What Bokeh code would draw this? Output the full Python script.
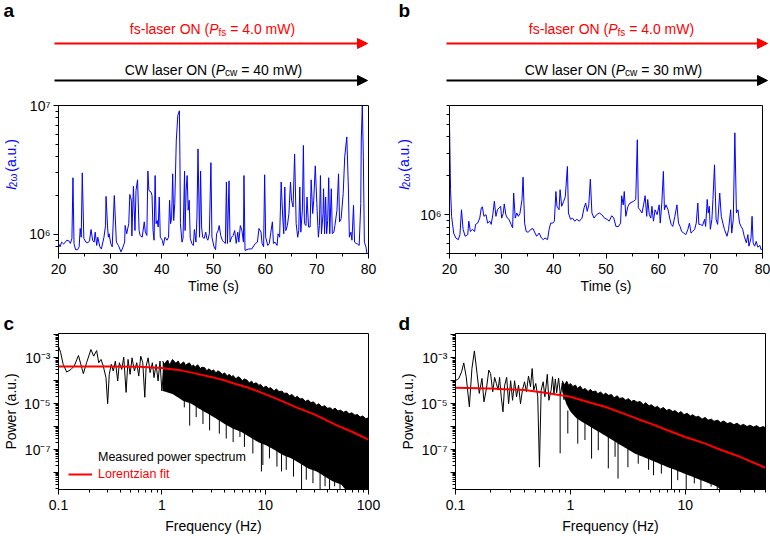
import numpy as np
from bokeh.plotting import figure
from bokeh.layouts import row, column
from bokeh.models import (Range1d, FixedTicker, CustomJSTickFormatter, Label,
                          Arrow, NormalHead, Legend, LegendItem)
from bokeh.embed import file_html
from bokeh.resources import INLINE

FONT = "Liberation Sans"
BLUE = "#0000ff"
RED = "#ff0000"

# ---------------- data ----------------
P_fs = "4.0"
P_cw_a = "40"
P_cw_b = "30"

time_major = [20, 30, 40, 50, 60, 70, 80]
time_minor = [25, 35, 45, 55, 65, 75]

# panel a: SHG intensity vs time
a_t = [20.0, 20.3, 20.6, 21.0, 21.3, 21.6, 22.0, 22.3, 22.6, 22.8, 23.0, 23.3, 23.7, 24.0, 24.2,
       24.4, 24.6, 24.9, 25.3, 25.7, 26.0, 26.3, 26.6, 26.9, 27.1, 27.4, 27.6, 28.0, 28.3, 28.8,
       29.1, 29.2, 29.5, 29.65, 29.8, 30.1, 30.4, 30.8, 31.2, 31.6, 32.1, 32.5, 32.8, 32.9, 33.2,
       33.6, 33.8, 34.1, 34.2, 34.5, 34.8, 35.0, 35.3, 35.6, 35.8, 36.2, 36.6, 36.8, 37.1, 37.3,
       37.5, 37.9, 38.1, 38.3, 38.5, 38.7, 38.9, 39.1, 39.3, 39.5, 39.7, 40.1, 40.3, 40.6, 41.0,
       41.3, 41.5, 41.7, 41.9, 42.1, 42.3, 42.5, 42.8, 43.1, 43.4, 43.5, 43.6, 43.9, 44.1, 44.4,
       44.5, 44.7, 44.9, 45.1, 45.3, 45.5, 45.8, 46.1, 46.3, 46.6, 46.8, 47.0, 47.3, 47.5, 47.7,
       47.9, 48.2, 48.5, 48.7, 48.9, 49.2, 49.5, 49.7, 50.1, 50.4, 50.6, 50.9, 51.1, 51.4, 51.7,
       52.0, 52.3, 52.5, 52.7, 53.0, 53.2, 53.5, 53.8, 54.1, 54.4, 54.7, 54.9, 55.2, 55.5, 55.8,
       55.9, 56.1, 56.8, 57.4, 58.1, 58.5, 58.8, 59.2, 59.4, 59.7, 59.9, 60.1, 60.5, 60.8, 61.1,
       61.4, 61.6, 61.9, 62.3, 62.5, 62.8, 63.1, 63.4, 63.6, 63.8, 64.0, 64.3, 64.6, 64.9, 65.1,
       65.4, 65.7, 66.0, 66.3, 66.5, 66.7, 66.9, 67.2, 67.4, 67.6, 67.9, 68.1, 68.4, 68.7, 68.9,
       69.2, 69.4, 69.7, 70.0, 70.3, 70.5, 70.7, 70.9, 71.2, 71.3, 71.5, 71.7, 71.9, 72.1, 72.3,
       72.5, 72.8, 73.0, 73.3, 73.5, 73.9, 74.2, 74.4, 74.7, 75.1, 75.4, 75.8, 76.1, 76.3, 76.6,
       76.8, 77.1, 77.3, 77.6, 77.9, 78.2, 78.5, 78.6, 78.8, 79.0, 79.2, 79.5, 79.7, 80.0]
a_v = [8.5e5, 8.0e5, 8.7e5, 8.4e5, 8.7e5, 9.0e5, 8.9e5, 8.5e5, 9.3e5, 2.75e6, 8.5e5, 7.6e5, 7.6e5, 8.0e5, 1.11e6,
       9.5e5, 3.0e6, 9.3e5, 8.7e5, 8.6e5, 8.9e5, 1.09e6, 9.0e5, 8.7e5, 1.04e6, 8.2e5, 9.5e5, 8.0e5, 7.7e5, 9.5e5,
       1.17e6, 1.97e6, 1.14e6, 9.5e5, 1.01e6, 8.5e5, 8.0e5, 2.0e6, 8.7e5, 8.2e5, 7.3e5, 8.0e5, 8.7e5, 1.17e6, 1.01e6,
       1.21e6, 2.04e6, 1.84e6, 9.7e5, 2.36e6, 1.07e6, 2.19e6, 2.65e6, 1.07e6, 9.8e5, 9.5e5, 1.25e6, 1.04e6, 9.8e5, 3.1e6,
       2.19e6, 2.13e6, 2.0e6, 1.07e6, 9.0e5, 2.86e6, 1.21e6, 1.28e6, 1.14e6, 1.95e6, 9.5e5, 9.0e5, 8.2e5, 9.5e5, 9.0e5,
       9.5e5, 1.84e6, 1.21e6, 1.36e6, 2.95e6, 1.28e6, 1.73e6, 5.4e6, 8.4e6, 9.1e6, 4.0e6, 1.21e6, 8.7e5, 9.3e5, 3.1e6,
       1.07e6, 2.19e6, 2.86e6, 1.54e6, 1.84e6, 9.3e5, 8.5e5, 8.2e5, 1.09e6, 8.7e5, 1.36e6, 4.6e6, 9.5e5, 3.1e6, 1.14e6,
       9.5e5, 9.3e5, 1.04e6, 9.3e5, 9.0e5, 1.01e6, 3.6e6, 9.5e5, 8.0e5, 7.6e5, 1.01e6, 1.07e6, 1.17e6, 9.8e5, 9.0e5,
       8.7e5, 8.5e5, 2.55e6, 8.5e5, 2.6e6, 8.7e5, 9.5e5, 9.8e5, 1.07e6, 8.5e5, 1.04e6, 8.7e5, 1.17e6, 1.07e6, 8.7e5,
       2.86e6, 7.5e5, 7.7e5, 7.7e5, 8.5e5, 8.7e5, 1.11e6, 1.04e6, 8.5e5, 8.0e5, 2.9e6, 9.5e5, 8.2e5, 8.5e5, 1.04e6,
       1.25e6, 8.5e5, 8.7e5, 8.2e5, 1.01e6, 9.5e5, 2.55e6, 1.36e6, 1.01e6, 2.33e6, 1.07e6, 1.17e6, 1.45e6, 2.55e6, 1.84e6,
       1.63e6, 4.2e6, 1.21e6, 9.5e5, 1.07e6, 2.33e6, 1.04e6, 1.54e6, 4.9e6, 1.21e6, 1.17e6, 1.95e6, 1.14e6, 1.14e6, 2.65e6,
       1.45e6, 1.84e6, 3.4e6, 1.73e6, 9.5e5, 1.17e6, 2.86e6, 1.01e6, 1.45e6, 2.26e6, 1.01e6, 1.95e6, 1.01e6, 1.28e6, 2.75e6,
       1.01e6, 2.26e6, 1.01e6, 1.04e6, 1.17e6, 1.54e6, 2.95e6, 1.25e6, 1.32e6, 2.07e6, 4.0e6, 5.7e6, 2.33e6, 9.5e5, 1.04e6,
       9.0e5, 1.68e6, 8.7e5, 8.5e5, 8.4e5, 8.2e5, 1.73e6, 5.4e6, 1.0e7, 4.0e6, 8.7e5, 8.0e5, 7.1e5, 6.5e5]

# panel b: SHG intensity vs time
b_t = [20.0, 20.2, 20.4, 20.8, 21.2, 21.7, 22.0, 22.3, 22.6, 23.0, 23.5, 23.7, 24.0, 24.4, 24.8,
       25.0, 25.4, 25.8, 26.1, 26.3, 26.6, 27.0, 27.3, 27.7, 28.0, 28.3, 28.6, 28.9, 29.2, 29.5,
       29.8, 30.0, 30.3, 30.5, 30.8, 31.1, 31.4, 31.8, 32.1, 32.3, 32.6, 32.9, 33.2, 33.5, 33.9,
       34.1, 34.4, 34.7, 35.1, 35.6, 36.0, 36.4, 36.7, 37.2, 37.6, 38.0, 38.3, 38.8, 39.1, 39.4,
       39.8, 40.1, 40.4, 40.6, 41.0, 41.2, 41.5, 41.9, 42.2, 42.6, 42.8, 43.2, 43.6, 44.0, 44.4,
       44.9, 45.4, 45.8, 46.1, 46.4, 46.7, 47.0, 47.3, 47.7, 48.2, 48.7, 49.2, 49.7, 50.2, 50.6,
       51.1, 51.5, 51.9, 52.4, 52.8, 53.0, 53.3, 53.5, 53.8, 54.2, 54.6, 55.3, 55.7, 56.0, 56.2,
       56.5, 56.9, 57.2, 57.5, 57.8, 58.0, 58.3, 58.6, 58.8, 59.1, 59.4, 59.8, 60.2, 60.4, 60.7,
       61.0, 61.2, 61.5, 61.9, 62.2, 62.5, 62.8, 63.2, 63.6, 63.9, 64.2, 64.5, 64.9, 65.3, 65.7,
       66.0, 66.3, 66.6, 67.0, 67.3, 67.6, 67.8, 68.1, 68.5, 68.9, 69.1, 69.4, 69.6, 69.8, 70.0,
       70.3, 70.5, 70.8, 71.1, 71.4, 71.8, 72.1, 72.4, 72.7, 73.2, 73.5, 73.9, 74.1, 74.4, 74.7,
       75.0, 75.3, 75.6, 75.9, 76.2, 76.5, 76.9, 77.2, 77.4, 77.8, 78.0, 78.2, 78.5, 78.8, 79.1,
       79.5, 79.7, 80.0]
b_v = [5.1e6, 1.56e6, 9.7e5, 7.2e5, 6.6e5, 6.4e5, 7.0e5, 1.09e6, 7.7e5, 6.8e5, 7.0e5, 8.9e5, 7.4e5, 7.7e5, 7.4e5,
       8.4e5, 8.6e5, 9.4e5, 1.13e6, 1.15e6, 9.7e5, 1.0e6, 8.6e5, 8.9e5, 8.4e5, 1.0e6, 1.27e6, 9.7e5, 1.09e6, 1.13e6,
       1.16e6, 9.4e5, 1.02e6, 1.21e6, 1.0e6, 9.4e5, 9.2e5, 8.4e5, 7.9e5, 1.47e6, 9.4e5, 1.03e6, 9.7e5, 1.02e6, 1.31e6,
       1.95e6, 8.6e5, 7.4e5, 7.3e5, 7.7e5, 7.8e5, 7.2e5, 6.8e5, 7.2e5, 6.6e5, 6.4e5, 6.6e5, 6.4e5, 7.7e5, 8.6e5,
       8.6e5, 8.9e5, 1.51e6, 1.16e6, 1.09e6, 1.56e6, 1.16e6, 1.27e6, 1.38e6, 2.36e6, 1.03e6, 9.2e5, 9.4e5, 8.9e5, 9.2e5,
       8.9e5, 9.4e5, 1.13e6, 1.23e6, 1.06e6, 1.19e6, 1.88e6, 1.03e6, 9.4e5, 1.0e6, 1.03e6, 1.0e6, 9.4e5, 9.2e5, 8.9e5,
       9.8e5, 9.4e5, 8.1e5, 8.1e5, 8.6e5, 1.40e6, 1.19e6, 1.51e6, 9.7e5, 1.16e6, 1.23e6, 1.27e6, 1.31e6, 3.8e6, 1.13e6,
       1.09e6, 1.03e6, 1.19e6, 1.40e6, 9.7e5, 1.31e6, 1.0e6, 9.4e5, 1.16e6, 8.9e5, 1.09e6, 1.0e6, 1.19e6, 8.6e5, 1.23e6,
       2.16e6, 1.09e6, 1.19e6, 1.09e6, 9.4e5, 8.4e5, 8.1e5, 9.7e5, 1.19e6, 8.6e5, 8.1e5, 7.4e5, 7.2e5, 7.0e5, 7.7e5,
       8.6e5, 7.2e5, 7.4e5, 7.7e5, 8.6e5, 1.23e6, 8.4e5, 8.4e5, 8.2e5, 9.2e5, 8.1e5, 1.31e6, 1.03e6, 1.16e6, 7.7e5,
       9.2e5, 1.31e6, 2.43e6, 9.2e5, 8.4e5, 1.47e6, 9.7e5, 8.6e5, 7.7e5, 6.8e5, 7.7e5, 1.09e6, 7.2e5, 9.2e5, 4.3e6,
       1.03e6, 1.09e6, 8.6e5, 8.1e5, 7.7e5, 6.8e5, 6.05e5, 7.0e5, 5.7e5, 6.6e5, 9.7e5, 6.05e5, 5.7e5, 6.2e5, 5.6e5,
       5.77e5, 5.38e5, 5.4e5]

a_major = [1e6, 1e7]
a_minor = [7e5, 8e5, 9e5, 2e6, 3e6, 4e6, 5e6, 6e6, 7e6, 8e6, 9e6]
b_major = [1e6]
b_minor = [5e5, 6e5, 7e5, 8e5, 9e5, 2e6, 3e6, 4e6, 5e6, 6e6, 7e6]

# panel c: power spectrum, sparse low-frequency part
c_low_f = [0.100, 0.105, 0.111, 0.120, 0.132, 0.142, 0.156, 0.174, 0.187, 0.206, 0.219, 0.234, 0.245,
           0.258, 0.271, 0.288, 0.299, 0.310, 0.324, 0.339, 0.355, 0.374, 0.388, 0.409, 0.428, 0.451,
           0.471, 0.493, 0.515, 0.543, 0.572, 0.598, 0.625, 0.654, 0.684, 0.705, 0.737, 0.77, 0.81,
           0.84, 0.88, 0.92, 0.96, 1.00, 1.05]
c_low_p = [3.2e-3, 1.66e-3, 5.2e-4, 2.4e-4, 3.1e-4, 4.4e-4, 1.26e-3, 2.04e-4, 6.1e-4, 2.3e-3, 1.18e-3, 2.07e-3, 6.1e-4,
           8.5e-4, 4.4e-4, 1.37e-4, 1.0e-5, 1.9e-4, 5.2e-4, 2.65e-4, 7.2e-4, 9.8e-5, 6.1e-4, 3.1e-4, 1.07e-3, 3.1e-5,
           8.5e-4, 1.9e-4, 1.0e-3, 2.65e-4, 6.1e-4, 1.6e-4, 1.18e-3, 6.1e-4, 1.9e-5, 4.4e-4, 1.0e-3, 2.25e-4, 6.1e-4,
           1.37e-4, 5.2e-4, 9.8e-5, 7.2e-4, 3.6e-5, 4.4e-4]
# dense part: upper edge of the black band
c_hi_f = [1.02, 1.06, 1.09, 1.14, 1.18, 1.22, 1.27, 1.33, 1.37, 1.44, 1.50, 1.55, 1.63, 1.70, 1.76, 1.85,
          1.95, 2.02, 2.10, 2.22, 2.36, 2.44, 2.60, 2.72, 2.85, 3.05, 3.16, 3.35, 3.48, 3.70, 3.85, 4.05,
          4.30, 4.48, 4.75, 4.90, 5.20, 5.45, 5.70, 6.00, 6.30, 6.70, 7.00, 7.40, 7.70, 8.20, 8.70, 9.00,
          9.60, 10.2, 10.8, 11.3, 12.2, 12.8, 13.6, 14.6, 15.2, 16.3, 17.1, 18.2, 19.5, 20.4, 21.8, 23.0,
          24.5, 26.0, 27.8, 29.3, 31.5, 33.0, 35.5, 37.6, 40.2, 42.5, 45.0, 47.5, 50.5, 53.5, 57.5, 61.0,
          65.0, 69.0, 74.0, 78.0, 83.0, 88.0, 94.0, 100]
c_hi_p = [7.2e-4, 5.2e-4, 6.4e-4, 8.0e-4, 5.0e-4, 6.2e-4, 8.5e-4, 6.5e-4, 5.8e-4, 7.3e-4, 5.0e-4, 5.6e-4,
          6.6e-4, 4.6e-4, 5.4e-4, 6.0e-4, 4.2e-4, 4.9e-4, 3.9e-4, 5.0e-4, 3.4e-4, 3.9e-4, 3.7e-4, 2.7e-4,
          3.3e-4, 2.6e-4, 3.0e-4, 2.2e-4, 2.7e-4, 2.3e-4, 1.9e-4, 2.2e-4, 1.6e-4, 1.9e-4, 1.5e-4, 1.7e-4,
          1.2e-4, 1.5e-4, 1.35e-4, 1.0e-4, 1.2e-4, 1.05e-4, 8.0e-5, 9.6e-5, 7.2e-5, 8.2e-5, 6.2e-5, 7.0e-5,
          5.0e-5, 5.8e-5, 4.6e-5, 5.0e-5, 3.6e-5, 4.4e-5, 3.4e-5, 3.5e-5, 2.8e-5, 2.9e-5, 2.2e-5, 2.5e-5,
          1.8e-5, 2.1e-5, 1.6e-5, 1.7e-5, 1.25e-5, 1.45e-5, 1.1e-5, 1.2e-5, 8.5e-6, 1.0e-5, 7.2e-6, 8.2e-6,
          6.3e-6, 6.6e-6, 5.4e-6, 6.4e-6, 4.8e-6, 5.2e-6, 4.2e-6, 4.8e-6, 3.6e-6, 4.0e-6, 3.1e-6, 3.4e-6,
          2.6e-6, 2.9e-6, 2.2e-6, 2.4e-6]
# lower edge of the solid band
c_lo_f = [1.02, 1.28, 1.60, 1.93, 2.32, 2.80, 3.37, 4.06, 4.89, 5.89, 7.09, 8.54, 10.3, 12.4, 14.9, 18.0,
          21.6, 26.1, 31.4, 37.8, 45.6, 54.9, 66.1, 79.6, 100]
c_lo_p = [3.6e-5, 2.6e-5, 1.35e-5, 1.0e-5, 5.9e-6, 3.6e-6, 2.2e-6, 1.3e-6, 8.1e-7, 5.8e-7, 3.5e-7, 2.1e-7,
          1.5e-7, 9.4e-8, 5.7e-8, 4.1e-8, 2.5e-8, 1.5e-8, 1.1e-8, 6.6e-9, 4.0e-9, 2.9e-9, 1e-9, 1e-9, 1e-9]
# downward spikes below the band: frequency, start and tip values
c_dip_f = [1.65, 1.86, 2.15, 2.5, 2.9, 3.6, 4.2, 4.9, 5.7, 6.3, 7.6, 9.2, 9.5, 11, 13, 14.4, 16,
           18.8, 22.5, 25, 29, 34, 38, 42, 47, 53, 62, 72, 83, 96]
c_dip_top = [3e-5, 2e-5, 1.5e-5, 1e-5, 8e-6, 5e-6, 4e-6, 3e-6, 2e-6, 1.5e-6, 1e-6, 7e-7, 7e-7, 5e-7,
             3e-7, 2.5e-7, 2e-7, 1.5e-7, 1e-7, 8e-8, 6e-8, 4e-8, 3e-8, 2.5e-8, 2e-8, 1.5e-8, 1e-8, 8e-9,
             6e-9, 5e-9]
c_dip_tip = [6.9e-6, 1.1e-6, 2.6e-6, 1.3e-6, 6.8e-7, 4.9e-7, 3.0e-7, 2.1e-7, 3.5e-7, 1.3e-7, 6.7e-8, 1.1e-8,
             2.1e-8, 4.1e-8, 1.8e-8, 1.1e-8, 1.3e-8, 6.6e-9, 1e-9, 4.8e-9, 3.4e-9, 1e-9, 2.5e-9, 1e-9, 2.5e-9,
             1e-9, 1e-9, 1e-9, 1e-9, 1e-9]
# Lorentzian fit c
c_fit_f = [0.1, 0.3, 0.6, 1, 1.5, 2, 3, 4, 5, 7, 10, 15, 20, 30, 50, 70, 100]
c_fit_p = [4.2e-4, 4.2e-4, 4.1e-4, 3.6e-4, 2.9e-4, 2.2e-4, 1.47e-4, 1.05e-4, 7.6e-5, 4.8e-5, 2.6e-5,
           1.23e-5, 6.9e-6, 3.4e-6, 1.1e-6, 5.8e-7, 2.7e-7]

# panel d: power spectrum
d_low_f = [0.100, 0.107, 0.113, 0.118, 0.124, 0.132, 0.139, 0.146, 0.154, 0.161, 0.170, 0.177, 0.186,
           0.195, 0.202, 0.211, 0.219, 0.227, 0.235, 0.242, 0.250, 0.259, 0.268, 0.279, 0.290, 0.302,
           0.314, 0.327, 0.340, 0.354, 0.368, 0.383, 0.399, 0.415, 0.432, 0.450, 0.465, 0.480, 0.50,
           0.52, 0.538, 0.557, 0.58, 0.60, 0.63, 0.65, 0.68, 0.70, 0.72, 0.74, 0.76, 0.79, 0.82, 0.85,
           0.88, 0.91]
d_low_p = [1.0e-4, 1.26e-4, 2.45e-4, 6.0e-4, 1.48e-4, 7.3e-6, 3.4e-4, 2.0e-3, 2.07e-4, 2.8e-5, 1.26e-4, 1.2e-5, 4.6e-5,
           2.9e-4, 2.07e-4, 3.3e-5, 1.4e-4, 7.6e-5, 3.9e-5, 1.4e-4, 2.0e-5, 4.4e-6, 6.4e-5, 1.4e-4, 1.0e-5, 1.0e-4,
           1.4e-5, 1.0e-4, 2.0e-5, 6.4e-5, 1.0e-5, 4.0e-5, 9.0e-5, 3.3e-5, 1.6e-4, 5.4e-5, 3.4e-4, 3.9e-5, 7.6e-5,
           2.0e-5, 1.7e-8, 3.9e-5, 9.0e-5, 2.0e-5, 1.9e-4, 1.4e-5, 3.9e-5, 1.5e-4, 2.5e-5, 1.2e-4, 3.0e-5, 1.3e-4,
           2.2e-5, 8.0e-5, 1.5e-5, 7.0e-5]
d_hi_f = [0.85, 0.89, 0.93, 0.97, 1.0, 1.05, 1.11, 1.15, 1.22, 1.28, 1.34, 1.43, 1.49, 1.57, 1.66, 1.73,
          1.83, 1.95, 2.02, 2.15, 2.28, 2.40, 2.56, 2.68, 2.88, 3.02, 3.20, 3.40, 3.58, 3.82, 4.05, 4.32,
          4.52, 4.85, 5.05, 5.45, 5.72, 6.10, 6.45, 6.90, 7.25, 7.80, 8.15, 8.70, 9.20, 9.75, 10.4, 11.1,
          11.6, 12.4, 13.1, 14.0, 14.9, 15.8, 16.9, 17.8, 19.2, 20.3, 21.7, 23.2, 24.8, 26.5, 28.2, 30.3,
          32.1, 34.5, 36.6, 39.4, 41.8, 44.7, 47.5, 50]
d_hi_p = [1.0e-4, 6.5e-5, 9.5e-5, 6.0e-5, 7.6e-5, 5.6e-5, 6.4e-5, 4.6e-5, 5.8e-5, 4.0e-5, 4.6e-5, 3.4e-5,
          4.2e-5, 3.3e-5, 3.6e-5, 2.7e-5, 3.2e-5, 2.4e-5, 2.9e-5, 2.3e-5, 2.5e-5, 1.8e-5, 2.2e-5, 1.7e-5,
          1.8e-5, 1.4e-5, 1.65e-5, 1.25e-5, 1.4e-5, 1.15e-5, 1.25e-5, 9.0e-6, 1.1e-5, 8.0e-6, 9.0e-6, 6.8e-6,
          7.6e-6, 5.8e-6, 6.8e-6, 5.0e-6, 5.7e-6, 4.5e-6, 5.0e-6, 3.8e-6, 4.5e-6, 3.3e-6, 3.8e-6, 2.9e-6,
          3.3e-6, 2.6e-6, 2.8e-6, 2.1e-6, 2.5e-6, 1.9e-6, 2.1e-6, 1.7e-6, 1.9e-6, 1.5e-6, 1.75e-6, 1.35e-6,
          1.5e-6, 1.2e-6, 1.4e-6, 1.1e-6, 1.25e-6, 1.0e-6, 1.15e-6, 9.5e-7, 1.1e-6, 8.8e-7, 1.0e-6, 9.0e-7]
d_lo_f = [0.85, 0.92, 1.0, 1.13, 1.34, 1.58, 1.87, 2.21, 2.61, 3.08, 3.63, 4.29, 5.06, 5.97, 7.05, 8.32,
          9.8, 11.6, 13.7, 16.2, 19.1, 22.5, 50]
d_lo_p = [3.5e-5, 1.0e-5, 4.5e-6, 2.3e-6, 1.35e-6, 8.3e-7, 5.0e-7, 3.0e-7, 1.8e-7, 1.1e-7, 6.7e-8, 4.8e-8,
          3.4e-8, 2.4e-8, 1.7e-8, 1.25e-8, 8.9e-9, 6.4e-9, 4.6e-9, 3.3e-9, 2.4e-9, 1e-9, 1e-9]
d_dip_f = [0.815, 0.95, 1.16, 1.34, 1.53, 1.75, 2.14, 2.45, 2.6, 3.17, 3.9, 4.8, 5.3, 6.2, 7.6, 8.6,
           10.2, 12, 13.7, 16.8, 19, 23, 28, 35, 43]
d_dip_top = [3e-5, 5e-6, 3e-6, 2e-6, 1.2e-6, 8e-7, 5e-7, 3e-7, 3e-7, 2e-7, 1e-7, 6e-8, 5e-8, 4e-8, 3e-8,
             2e-8, 1.5e-8, 1e-8, 8e-9, 6e-9, 5e-9, 4e-9, 3e-9, 3e-9, 3e-9]
d_dip_tip = [6.8e-8, 5e-7, 1.8e-7, 2.6e-7, 4e-8, 9.3e-8, 1.5e-8, 4.8e-8, 5.4e-9, 1.7e-8, 2.4e-8, 1.3e-8,
             7.6e-9, 8.9e-9, 1e-9, 4.6e-9, 1e-9, 3.3e-9, 1e-9, 2.4e-9, 1e-9, 1e-9, 1e-9, 1e-9, 1e-9]
d_fit_f = [0.1, 0.2, 0.4, 0.6, 1, 1.5, 2, 3, 4, 5, 7, 10, 15, 20, 30, 50]
d_fit_p = [4.9e-5, 4.6e-5, 3.9e-5, 3.0e-5, 2.0e-5, 1.1e-5, 7.3e-6, 3.5e-6, 2.0e-6, 1.35e-6, 6.9e-7,
           3.5e-7, 1.8e-7, 1.0e-7, 4.8e-8, 1.6e-8]

spec_major = [1e-8, 1e-7, 1e-6, 1e-5, 1e-4, 1e-3, 1e-2]
spec_minor = [m * d for d in [1e-9, 1e-8, 1e-7, 1e-6, 1e-5, 1e-4, 1e-3, 1e-2] for m in range(2, 10)]
freq_major = [0.1, 1, 10, 100]
freq_minor = [m * d for d in [0.1, 1, 10] for m in range(2, 10)]

# ---------------- helpers ----------------
WID = {' ': 278, '(': 333, ')': 333, '-': 333, '.': 278, '=': 584, 'a': 556, 'c': 500, 'e': 556,
       'f': 278, 'l': 222, 'm': 833, 'r': 333, 's': 500, 'w': 722, 'u': 556, 'C': 722, 'N': 722,
       'O': 778, 'P': 667, 'W': 944, 'I': 278, 'ω': 800}


def tw(s, size):
    return sum(WID.get(ch, 556) for ch in s) / 1000.0 * size


POW_ALL = """
const sup = ["\u2070","\u00b9","\u00b2","\u00b3","\u2074","\u2075","\u2076","\u2077","\u2078","\u2079"];
const e = Math.round(Math.log10(tick));
let out = "10";
for (const ch of String(e)) { out += (ch === "-") ? "\u207b" : sup[parseInt(ch)]; }
return out;
"""
POW_ODD = """
const sup = ["\u2070","\u00b9","\u00b2","\u00b3","\u2074","\u2075","\u2076","\u2077","\u2078","\u2079"];
const e = Math.round(Math.log10(tick));
if (e % 2 === 0) { return ""; }
let out = "10";
for (const ch of String(e)) { out += (ch === "-") ? "\u207b" : sup[parseInt(ch)]; }
return out;
"""
FREQ_FMT = "return (tick < 1) ? tick.toFixed(1) : tick.toFixed(0);"


def style_axes(p):
    p.grid.visible = False
    p.outline_line_color = "black"
    p.outline_line_width = 1
    p.outline_line_alpha = 1
    p.background_fill_color = "white"
    p.border_fill_color = "white"
    for ax in p.axis:
        ax.axis_line_color = "black"
        ax.major_tick_line_color = "black"
        ax.minor_tick_line_color = "black"
        ax.major_tick_in = 0
        ax.major_tick_out = 5
        ax.minor_tick_in = 0
        ax.minor_tick_out = 3
        ax.major_label_text_font = FONT
        ax.major_label_text_font_size = "14px"
        ax.major_label_text_color = "black"
        ax.axis_label_text_font = FONT
        ax.axis_label_text_font_size = "14px"
        ax.axis_label_text_font_style = "normal"
        ax.axis_label_text_color = "black"


def canvas_fig(w, h, x0, x1, y0, y1):
    """A blank figure whose data coordinates equal page pixels (y downwards)."""
    p = figure(width=w, height=h, x_range=Range1d(x0, x1), y_range=Range1d(y1, y0),
               output_backend="svg", toolbar_location=None, min_border=0,
               x_axis_location=None, y_axis_location=None)
    p.grid.visible = False
    p.outline_line_color = None
    return p


def add_pieces(p, pieces, x, y, color, vertical=False):
    """Draw a run of text pieces: (text, size, style, shift). Leading spaces become offsets."""
    for t, s, style, d in pieces:
        body = t.lstrip(" ")
        lead = tw(t[:len(t) - len(body)], s)
        if vertical:
            p.add_layout(Label(x=x + d, y=y - lead, text=body, angle=np.pi / 2,
                               text_font=FONT, text_font_size=f"{s}px", text_font_style=style,
                               text_color=color, text_align="left", text_baseline="middle"))
            y -= tw(t, s)
        else:
            p.add_layout(Label(x=x + lead, y=y + d, text=body,
                               text_font=FONT, text_font_size=f"{s}px", text_font_style=style,
                               text_color=color, text_align="left", text_baseline="alphabetic"))
            x += tw(t, s)


def letter(p, ch, x, y):
    p.add_layout(Label(x=x, y=y, text=ch, text_font=FONT, text_font_size="19px",
                       text_font_style="bold", text_color="black", text_align="left",
                       text_baseline="alphabetic"))


def make_header(x0, x1, ch, letter_x, ax0, ax1, cx_red, cx_black, pcw):
    p = canvas_fig(385, 95, x0, x1, 0, 95)
    letter(p, ch, letter_x, 10)
    red_pieces = [("fs-laser ON (", 14, "normal", 0), ("P", 14, "italic", 0),
                  ("fs", 10, "normal", 4), (f" = {P_fs} mW)", 14, "normal", 0)]
    black_pieces = [("CW laser ON (", 14, "normal", 0), ("P", 14, "italic", 0),
                    ("cw", 10, "normal", 3), (f" = {pcw} mW)", 14, "normal", 0)]
    for pieces, cx, y, col in ((red_pieces, cx_red, 28, RED), (black_pieces, cx_black, 69, "black")):
        total = sum(tw(t, s) for t, s, _, _ in pieces)
        add_pieces(p, pieces, cx - total / 2.0, y, col)
    p.add_layout(Arrow(start=None, end=NormalHead(size=10, fill_color=RED, line_color=RED),
                       x_start=ax0, y_start=43, x_end=ax1, y_end=43,
                       line_color=RED, line_width=2))
    p.add_layout(Arrow(start=None, end=NormalHead(size=10, fill_color="black", line_color="black"),
                       x_start=ax0, y_start=80, x_end=ax1, y_end=80,
                       line_color="black", line_width=2))
    return p


# rotated y title pieces: I (italic), subscript 2ω, then (a.u.)
I2W_PIECES = [("I", 14, "italic", 0), ("2ω", 10, "normal", 3), ("  (a.u.)", 14, "normal", 0)]


def ylabel_fig(w, x0, center_x):
    p = canvas_fig(w, 205, x0, x0 + w, 95, 300)
    add_pieces(p, I2W_PIECES, center_x, 212, BLUE, vertical=True)
    return p


def make_ts(t, v, w, yr, ymaj, ymin, left, right):
    p = figure(width=w, height=205, x_range=Range1d(20, 80), y_range=Range1d(*yr),
               y_axis_type="log", output_backend="svg", toolbar_location=None,
               min_border_left=left, min_border_right=right, min_border_top=10,
               min_border_bottom=47)
    p.line(t, v, line_color=BLUE, line_width=1)
    style_axes(p)
    p.xaxis.ticker = FixedTicker(ticks=time_major, minor_ticks=time_minor)
    p.yaxis.ticker = FixedTicker(ticks=ymaj, minor_ticks=ymin)
    p.yaxis.formatter = CustomJSTickFormatter(code=POW_ALL)
    p.xaxis.axis_label = "Time (s)"
    p.xaxis.major_label_standoff = 5
    p.xaxis.axis_label_standoff = 1
    p.yaxis.major_label_standoff = 3
    return p


def make_spec(x1, lf, lp, hf, hp, lof, lop, df, dt, dp, ff, fp, left, right, ch, legend):
    p = figure(width=385, height=236, x_range=Range1d(0.1, x1), y_range=Range1d(1.8e-9, 1.15e-2),
               x_axis_type="log", y_axis_type="log", output_backend="svg", toolbar_location=None,
               min_border_left=left, min_border_right=right, min_border_top=33,
               min_border_bottom=47)
    band_f = sorted(set(hf) | set(lof))
    hi = np.interp(np.log10(band_f), np.log10(hf), np.log10(hp))
    lo = np.interp(np.log10(band_f), np.log10(lof), np.log10(lop))
    p.varea(x=band_f, y1=10 ** lo, y2=10 ** hi, fill_color="black")
    p.line(hf, hp, line_color="black", line_width=1)
    p.segment(x0=df, y0=dt, x1=df, y1=dp, line_color="black", line_width=1)
    p.line(lf, lp, line_color="black", line_width=1)
    r_fit = p.line(ff, fp, line_color=RED, line_width=2)
    style_axes(p)
    p.xaxis.ticker = FixedTicker(ticks=freq_major, minor_ticks=freq_minor)
    p.xaxis.formatter = CustomJSTickFormatter(code=FREQ_FMT)
    p.yaxis.ticker = FixedTicker(ticks=spec_major, minor_ticks=spec_minor)
    p.yaxis.formatter = CustomJSTickFormatter(code=POW_ODD)
    p.xaxis.axis_label = "Frequency (Hz)"
    p.yaxis.axis_label = "Power (a.u.)"
    p.xaxis.major_label_standoff = 5
    p.xaxis.axis_label_standoff = 5
    p.yaxis.major_label_standoff = 3
    p.yaxis.axis_label_standoff = 2
    # panel letter as the plot title, shifted left over the axis area
    p.title.text = ch
    p.title.text_font = FONT
    p.title.text_font_size = "19px"
    p.title.text_font_style = "bold"
    p.title.text_color = "black"
    p.title.align = "left"
    p.title.offset = -(left - 3) if ch == "c" else -(left - 13)
    p.title.standoff = 0
    p.title.vertical_align = "bottom"
    if legend:
        r_leg = p.line([], [], line_color="black", line_width=2)
        common = dict(orientation="vertical", padding=0, margin=0, border_line_color=None,
                      background_fill_alpha=0, label_text_font=FONT, label_text_font_size="12.5px",
                      glyph_width=24, glyph_height=14, label_height=14, label_standoff=6, spacing=0)
        p.add_layout(Legend(items=[LegendItem(label="Measured power spectrum", renderers=[r_leg])],
                            location=(10, 25), label_text_color="black", **common))
        p.add_layout(Legend(items=[LegendItem(label="Lorentzian fit", renderers=[r_fit])],
                            location=(10, 8), label_text_color=RED, **common))
    return p


# row 1: arrows and laser captions
hdr_a = make_header(0, 385, "a", 3, 54, 367, 212, 213, P_cw_a)
hdr_b = make_header(385, 770, "b", 398, 446, 767, 611, 613, P_cw_b)

# row 2: time traces with separate strips for the rotated y titles
lab_a = ylabel_fig(22, 0, 10)
pa = make_ts(a_t, a_v, 363, (7.1e5, 1e7), a_major, a_minor, 36, 17)
lab_b = ylabel_fig(30, 385, 403)
pb = make_ts(b_t, b_v, 355, (5.0e5, 7.0e6), b_major, b_minor, 34, 8)

# row 3: spectra
pc = make_spec(100, c_low_f, c_low_p, c_hi_f, c_hi_p, c_lo_f, c_lo_p, c_dip_f, c_dip_top, c_dip_tip,
               c_fit_f, c_fit_p, 58, 17, "c", True)
pd = make_spec(50, d_low_f, d_low_p, d_hi_f, d_hi_p, d_lo_f, d_lo_p, d_dip_f, d_dip_top, d_dip_tip,
               d_fit_f, d_fit_p, 70, 5, "d", False)

layout = column(row(hdr_a, hdr_b, spacing=0),
                row(lab_a, pa, lab_b, pb, spacing=0),
                row(pc, pd, spacing=0),
                spacing=0)
open("out.html", "w", encoding="utf-8").write(file_html(layout, INLINE))
